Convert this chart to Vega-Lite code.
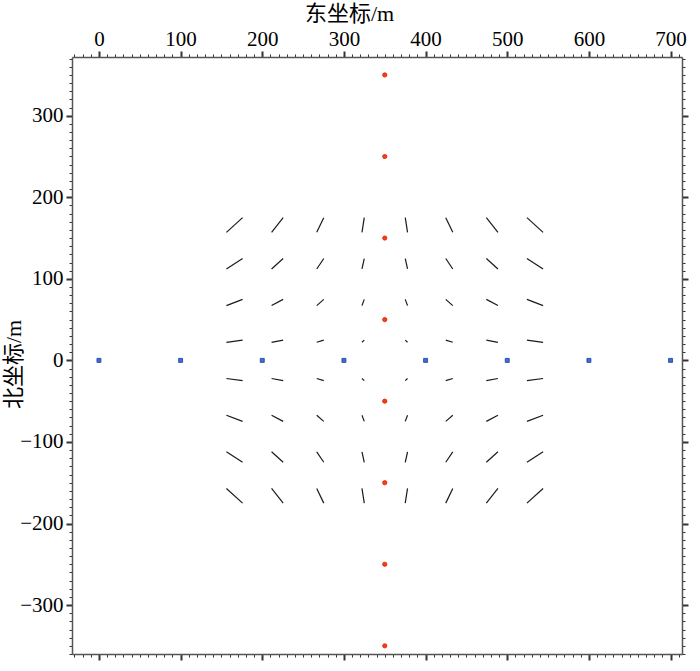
{
  "$schema": "https://vega.github.io/schema/vega-lite/v6.json",
  "width": 610,
  "height": 597,
  "autosize": "none",
  "padding": {"left": 72, "top": 57, "right": 18, "bottom": 17},
  "background": "white",
  "config": {"view": {"stroke": null}, "font": "Liberation Serif"},
  "datasets": {
    "segments": [
      {"x1":175.9,"y1":175.0,"x2":156.1,"y2":157.0},{"x1":225.6,"y1":175.0,"x2":211.4,"y2":157.0},{"x1":275.3,"y1":175.0,"x2":266.7,"y2":157.0},{"x1":324.9,"y1":175.0,"x2":322.1,"y2":157.0},{"x1":375.1,"y1":175.0,"x2":377.9,"y2":157.0},{"x1":424.7,"y1":175.0,"x2":433.3,"y2":157.0},{"x1":474.4,"y1":175.0,"x2":488.6,"y2":157.0},{"x1":524.1,"y1":175.0,"x2":543.9,"y2":157.0},
      {"x1":175.9,"y1":124.9,"x2":156.1,"y2":112.1},{"x1":225.6,"y1":124.9,"x2":211.4,"y2":112.1},{"x1":275.3,"y1":124.9,"x2":266.7,"y2":112.1},{"x1":324.9,"y1":124.9,"x2":322.1,"y2":112.1},{"x1":375.1,"y1":124.9,"x2":377.9,"y2":112.1},{"x1":424.7,"y1":124.9,"x2":433.3,"y2":112.1},{"x1":474.4,"y1":124.9,"x2":488.6,"y2":112.1},{"x1":524.1,"y1":124.9,"x2":543.9,"y2":112.1},
      {"x1":175.9,"y1":74.8,"x2":156.1,"y2":67.2},{"x1":225.6,"y1":74.8,"x2":211.4,"y2":67.2},{"x1":275.3,"y1":74.8,"x2":266.7,"y2":67.2},{"x1":324.9,"y1":74.8,"x2":322.1,"y2":67.2},{"x1":375.1,"y1":74.8,"x2":377.9,"y2":67.2},{"x1":424.7,"y1":74.8,"x2":433.3,"y2":67.2},{"x1":474.4,"y1":74.8,"x2":488.6,"y2":67.2},{"x1":524.1,"y1":74.8,"x2":543.9,"y2":67.2},
      {"x1":175.9,"y1":24.8,"x2":156.1,"y2":22.2},{"x1":225.6,"y1":24.8,"x2":211.4,"y2":22.2},{"x1":275.3,"y1":24.8,"x2":266.7,"y2":22.2},{"x1":324.9,"y1":24.8,"x2":322.1,"y2":22.2},{"x1":375.1,"y1":24.8,"x2":377.9,"y2":22.2},{"x1":424.7,"y1":24.8,"x2":433.3,"y2":22.2},{"x1":474.4,"y1":24.8,"x2":488.6,"y2":22.2},{"x1":524.1,"y1":24.8,"x2":543.9,"y2":22.2},
      {"x1":175.9,"y1":-24.8,"x2":156.1,"y2":-22.2},{"x1":225.6,"y1":-24.8,"x2":211.4,"y2":-22.2},{"x1":275.3,"y1":-24.8,"x2":266.7,"y2":-22.2},{"x1":324.9,"y1":-24.8,"x2":322.1,"y2":-22.2},{"x1":375.1,"y1":-24.8,"x2":377.9,"y2":-22.2},{"x1":424.7,"y1":-24.8,"x2":433.3,"y2":-22.2},{"x1":474.4,"y1":-24.8,"x2":488.6,"y2":-22.2},{"x1":524.1,"y1":-24.8,"x2":543.9,"y2":-22.2},
      {"x1":175.9,"y1":-74.8,"x2":156.1,"y2":-67.2},{"x1":225.6,"y1":-74.8,"x2":211.4,"y2":-67.2},{"x1":275.3,"y1":-74.8,"x2":266.7,"y2":-67.2},{"x1":324.9,"y1":-74.8,"x2":322.1,"y2":-67.2},{"x1":375.1,"y1":-74.8,"x2":377.9,"y2":-67.2},{"x1":424.7,"y1":-74.8,"x2":433.3,"y2":-67.2},{"x1":474.4,"y1":-74.8,"x2":488.6,"y2":-67.2},{"x1":524.1,"y1":-74.8,"x2":543.9,"y2":-67.2},
      {"x1":175.9,"y1":-124.9,"x2":156.1,"y2":-112.1},{"x1":225.6,"y1":-124.9,"x2":211.4,"y2":-112.1},{"x1":275.3,"y1":-124.9,"x2":266.7,"y2":-112.1},{"x1":324.9,"y1":-124.9,"x2":322.1,"y2":-112.1},{"x1":375.1,"y1":-124.9,"x2":377.9,"y2":-112.1},{"x1":424.7,"y1":-124.9,"x2":433.3,"y2":-112.1},{"x1":474.4,"y1":-124.9,"x2":488.6,"y2":-112.1},{"x1":524.1,"y1":-124.9,"x2":543.9,"y2":-112.1},
      {"x1":175.9,"y1":-175.0,"x2":156.1,"y2":-157.0},{"x1":225.6,"y1":-175.0,"x2":211.4,"y2":-157.0},{"x1":275.3,"y1":-175.0,"x2":266.7,"y2":-157.0},{"x1":324.9,"y1":-175.0,"x2":322.1,"y2":-157.0},{"x1":375.1,"y1":-175.0,"x2":377.9,"y2":-157.0},{"x1":424.7,"y1":-175.0,"x2":433.3,"y2":-157.0},{"x1":474.4,"y1":-175.0,"x2":488.6,"y2":-157.0},{"x1":524.1,"y1":-175.0,"x2":543.9,"y2":-157.0}
    ],
    "red": [
      {"x":350,"y":350},{"x":350,"y":250},{"x":350,"y":150},{"x":350,"y":50},
      {"x":350,"y":-50},{"x":350,"y":-150},{"x":350,"y":-250},{"x":350,"y":-350}
    ],
    "blue": [
      {"x":0,"y":0},{"x":100,"y":0},{"x":200,"y":0},{"x":300,"y":0},
      {"x":400,"y":0},{"x":500,"y":0},{"x":600,"y":0},{"x":700,"y":0}
    ]
  },
  "layer": [
    {
      "data": {"name": "segments"},
      "mark": {"type": "rule", "color": "#1a1a1a", "strokeWidth": 1.2},
      "encoding": {
        "x": {
          "field": "x1", "type": "quantitative",
          "scale": {"domain": [-33, 714], "nice": false, "zero": false},
          "axis": {
            "orient": "top",
            "values": [-30,-20,-10,0,10,20,30,40,50,60,70,80,90,100,110,120,130,140,150,160,170,180,190,200,210,220,230,240,250,260,270,280,290,300,310,320,330,340,350,360,370,380,390,400,410,420,430,440,450,460,470,480,490,500,510,520,530,540,550,560,570,580,590,600,610,620,630,640,650,660,670,680,690,700,710],
            "labelExpr": "datum.value % 100 === 0 ? datum.label : ''",
            "labelFont": "Liberation Serif", "labelFontSize": 21, "labelColor": "#000",
            "labelPadding": 2, "labelOverlap": false, "labelFlush": false, "labelBound": false,
            "tickSize": {"condition": {"test": "datum.value % 100 === 0", "value": 6}, "value": 3},
            "tickWidth": {"condition": {"test": "datum.value % 100 === 0", "value": 2}, "value": 1},
            "tickColor": "#333", "domainColor": "#555", "domainWidth": 1.5, "grid": false,
            "title": "东坐标/m", "titleFont": "Liberation Serif, Noto Sans CJK SC", "titleFontSize": 22,
            "titleFontWeight": "normal", "titleColor": "#000",
            "titleX": 277, "titleY": -37, "titleAlign": "center", "titleBaseline": "alphabetic"
          }
        },
        "y": {
          "field": "y1", "type": "quantitative",
          "scale": {"domain": [-360, 372], "nice": false, "zero": false},
          "axis": {
            "orient": "left",
            "values": [-360,-350,-340,-330,-320,-310,-300,-290,-280,-270,-260,-250,-240,-230,-220,-210,-200,-190,-180,-170,-160,-150,-140,-130,-120,-110,-100,-90,-80,-70,-60,-50,-40,-30,-20,-10,0,10,20,30,40,50,60,70,80,90,100,110,120,130,140,150,160,170,180,190,200,210,220,230,240,250,260,270,280,290,300,310,320,330,340,350,360,370],
            "labelExpr": "datum.value % 100 === 0 ? datum.label : ''",
            "labelFont": "Liberation Serif", "labelFontSize": 21, "labelColor": "#000",
            "labelPadding": 3, "labelOverlap": false, "labelFlush": false, "labelBound": false,
            "tickSize": {"condition": {"test": "datum.value % 100 === 0", "value": 6}, "value": 3},
            "tickWidth": {"condition": {"test": "datum.value % 100 === 0", "value": 2}, "value": 1},
            "tickColor": "#333", "domainColor": "#555", "domainWidth": 1.5, "grid": false,
            "title": "北坐标/m", "titleFont": "Liberation Serif, Noto Sans CJK SC", "titleFontSize": 22,
            "titleFontWeight": "normal", "titleColor": "#000",
            "titleAngle": -90, "titleX": -59, "titleY": 307, "titleAlign": "center", "titleBaseline": "middle"
          }
        },
        "x2": {"field": "x2"},
        "y2": {"field": "y2"}
      }
    },
    {
      "data": {"name": "red"},
      "mark": {"type": "point", "shape": "circle", "filled": true, "size": 18, "fill": "#ff3a10", "stroke": "#d42000", "strokeWidth": 0.8, "opacity": 1},
      "encoding": {
        "x": {
          "field": "x", "type": "quantitative",
          "scale": {"domain": [-33, 714], "nice": false, "zero": false},
          "axis": {
            "orient": "bottom",
            "values": [-30,-20,-10,0,10,20,30,40,50,60,70,80,90,100,110,120,130,140,150,160,170,180,190,200,210,220,230,240,250,260,270,280,290,300,310,320,330,340,350,360,370,380,390,400,410,420,430,440,450,460,470,480,490,500,510,520,530,540,550,560,570,580,590,600,610,620,630,640,650,660,670,680,690,700,710],
            "labels": false, "title": null,
            "tickSize": {"condition": {"test": "datum.value % 100 === 0", "value": 6}, "value": 3},
            "tickWidth": {"condition": {"test": "datum.value % 100 === 0", "value": 2}, "value": 1},
            "tickColor": "#333", "domainColor": "#555", "domainWidth": 1.5, "grid": false
          }
        },
        "y": {
          "field": "y", "type": "quantitative",
          "scale": {"domain": [-360, 372], "nice": false, "zero": false},
          "axis": {
            "orient": "right",
            "values": [-360,-350,-340,-330,-320,-310,-300,-290,-280,-270,-260,-250,-240,-230,-220,-210,-200,-190,-180,-170,-160,-150,-140,-130,-120,-110,-100,-90,-80,-70,-60,-50,-40,-30,-20,-10,0,10,20,30,40,50,60,70,80,90,100,110,120,130,140,150,160,170,180,190,200,210,220,230,240,250,260,270,280,290,300,310,320,330,340,350,360,370],
            "labels": false, "title": null,
            "tickSize": {"condition": {"test": "datum.value % 100 === 0", "value": 6}, "value": 3},
            "tickWidth": {"condition": {"test": "datum.value % 100 === 0", "value": 2}, "value": 1},
            "tickColor": "#333", "domainColor": "#555", "domainWidth": 1.5, "grid": false
          }
        }
      }
    },
    {
      "data": {"name": "blue"},
      "mark": {"type": "point", "shape": "square", "filled": true, "size": 16, "fill": "#3b6fd6", "stroke": "#203f99", "strokeWidth": 0.8, "opacity": 1},
      "encoding": {
        "x": {"field": "x", "type": "quantitative", "scale": {"domain": [-33, 714], "nice": false, "zero": false}, "axis": null},
        "y": {"field": "y", "type": "quantitative", "scale": {"domain": [-360, 372], "nice": false, "zero": false}, "axis": null}
      }
    }
  ],
  "resolve": {"axis": {"x": "independent", "y": "independent"}}
}
